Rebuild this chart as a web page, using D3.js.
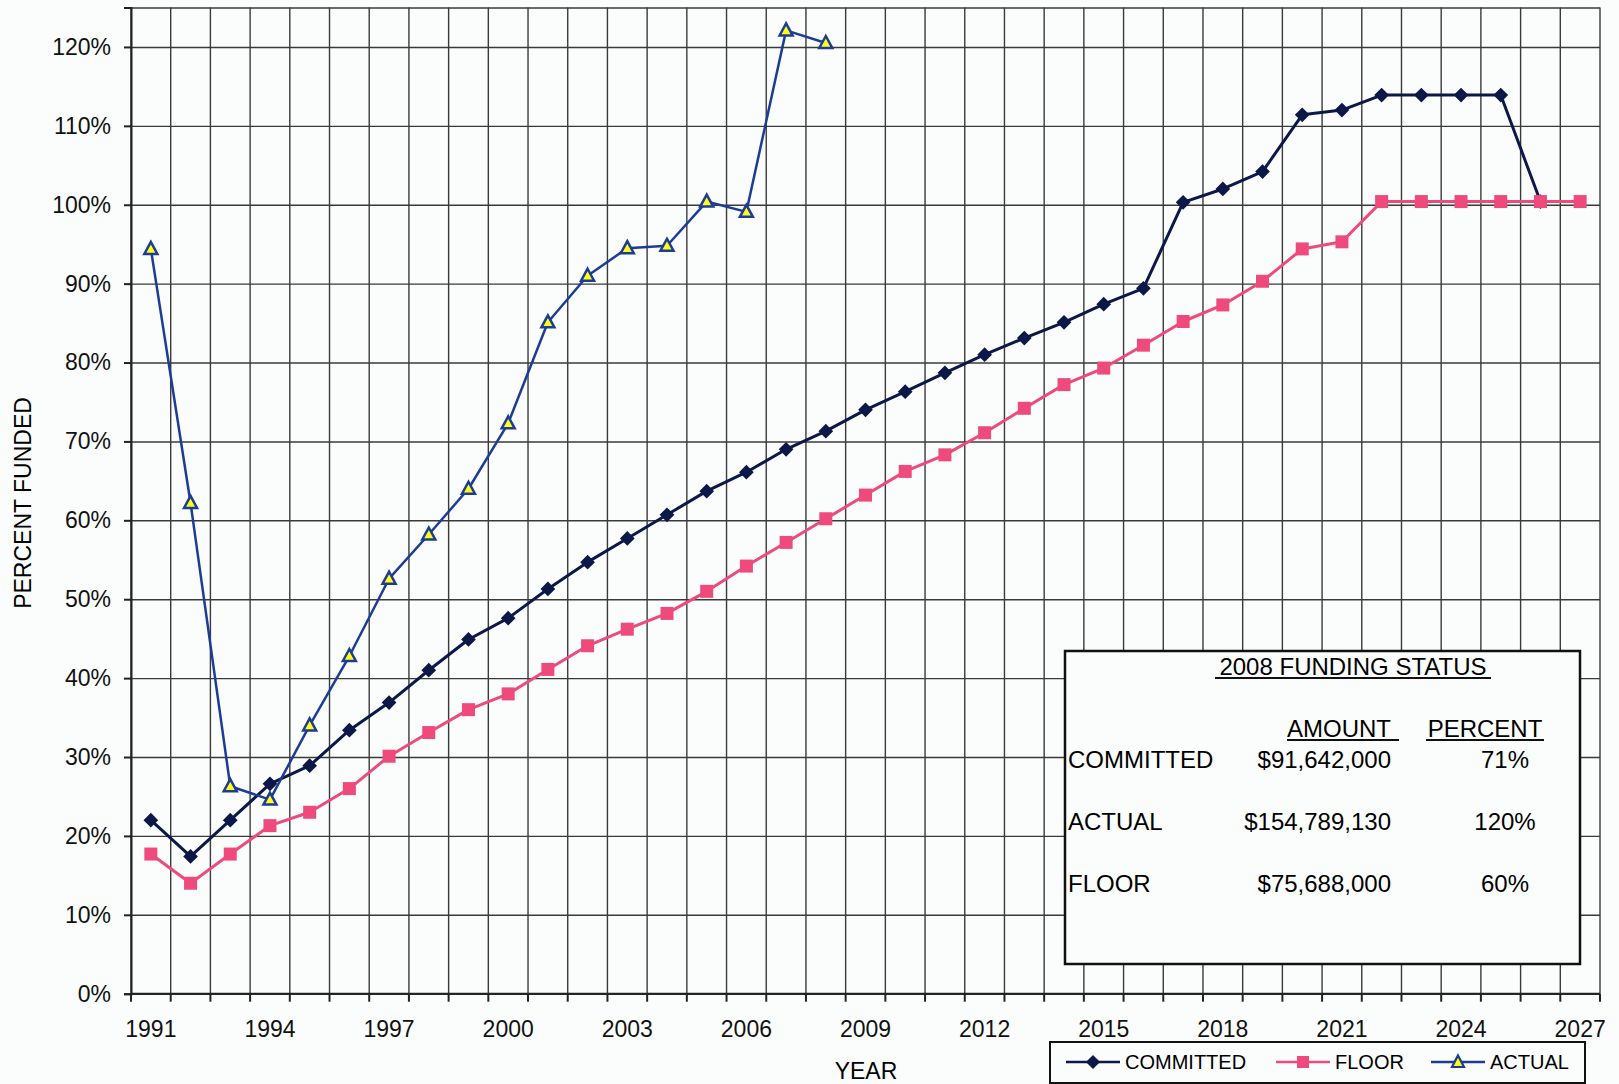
<!DOCTYPE html>
<html>
<head>
<meta charset="utf-8">
<script src="https://cdn.jsdelivr.net/npm/d3@7"></script>
<style>
  body { margin: 0; background: #fbfdfd; }
  svg { display: block; font-family: "Liberation Sans", Arial, sans-serif; }
  .grid line { stroke: #3a3a3a; stroke-width: 1.4; }
  .grid path { display: none; }
  .axis path, .axis line { stroke: #222; stroke-width: 2; }
  .axis text { font-size: 23px; fill: #111; }
</style>
</head>
<body>
<svg id="chart" width="1619" height="1084"></svg>
<script>
// years on the x axis
var years = d3.range(1991, 2028);
var yearLabels = [1991, 1994, 1997, 2000, 2003, 2006, 2009, 2012, 2015, 2018, 2021, 2024, 2027];
var yTicks = [0, 10, 20, 30, 40, 50, 60, 70, 80, 90, 100, 110, 120];

// percent funded
var committed = [22.0, 17.4, 22.0, 26.6, 28.9, 33.4, 36.9, 41.0, 44.9, 47.6,
  51.3, 54.7, 57.7, 60.7, 63.7, 66.1, 69.0, 71.3, 74.0, 76.3,
  78.7, 81.0, 83.1, 85.1, 87.4, 89.4, 100.3, 102.0, 104.2, 111.4,
  112.0, 113.9, 113.9, 113.9, 113.9, 100.4];
var floor = [17.7, 14.0, 17.7, 21.3, 23.0, 26.0, 30.1, 33.1, 36.0, 38.0,
  41.1, 44.1, 46.2, 48.2, 51.0, 54.2, 57.2, 60.2, 63.2, 66.2,
  68.3, 71.1, 74.2, 77.2, 79.3, 82.2, 85.2, 87.3, 90.3, 94.4,
  95.3, 100.4, 100.4, 100.4, 100.4, 100.4, 100.4];
var actual = [94.4, 62.2, 26.3, 24.6, 34.0, 42.8, 52.6, 58.2, 64.0, 72.3,
  85.1, 91.0, 94.5, 94.8, 100.4, 99.1, 122.1, 120.5];

var statusRows = [
  ["COMMITTED", "$91,642,000", "71%"],
  ["ACTUAL", "$154,789,130", "120%"],
  ["FLOOR", "$75,688,000", "60%"]
];

var colors = { committed: "#0c1848", floor: "#ee4a7c", actual: "#1d3c96", tri: "#ffff1a" };

var plotL = 131, plotR = 1600, plotT = 7.5, plotB = 993.7;

var svg = d3.select("#chart");

var x = d3.scaleBand().domain(years).range([plotL, plotR]);
var y = d3.scaleLinear().domain([0, 125]).range([plotB, plotT]);
var bw = x.bandwidth();
var cx = function(yr) { return x(yr) + bw / 2; };

// horizontal grid
svg.append("g")
  .attr("class", "grid")
  .attr("transform", "translate(" + plotL + ",0)")
  .call(d3.axisLeft(y).tickValues(yTicks.concat([125])).tickSize(-(plotR - plotL)).tickFormat(""));

// vertical grid at band edges
var edges = years.map(function(d) { return x(d); }).concat([plotR]);
svg.append("g").attr("class", "grid")
  .selectAll("line").data(edges).enter().append("line")
  .attr("x1", d => d).attr("x2", d => d)
  .attr("y1", plotT).attr("y2", plotB);

// bottom ticks at band edges
svg.append("g").attr("class", "axis")
  .selectAll("line").data(edges).enter().append("line")
  .attr("x1", d => d).attr("x2", d => d)
  .attr("y1", plotB).attr("y2", plotB + 8);

// y axis
svg.append("g")
  .attr("class", "axis")
  .attr("transform", "translate(" + plotL + ",0)")
  .call(d3.axisLeft(y).tickValues(yTicks).tickSize(7).tickPadding(13).tickFormat(d => d + "%"));

// x axis labels
var xAxis = d3.axisBottom(x).tickValues(yearLabels).tickSize(0).tickPadding(27);
var gx = svg.append("g")
  .attr("class", "axis")
  .attr("transform", "translate(0," + plotB + ")")
  .call(xAxis);
gx.select(".domain").attr("d", "M" + plotL + ",0H" + plotR);

svg.append("text")
  .attr("x", 866).attr("y", 1079)
  .attr("text-anchor", "middle")
  .style("font-size", "23px")
  .text("YEAR");

svg.append("text")
  .attr("transform", "translate(31,503) rotate(-90)")
  .attr("text-anchor", "middle")
  .style("font-size", "23px")
  .text("PERCENT FUNDED");

// series
var line = d3.line().x((d, i) => cx(years[i])).y(d => y(d));

function drawLine(data, color, w) {
  svg.append("path")
    .datum(data)
    .attr("fill", "none")
    .attr("stroke", color)
    .attr("stroke-width", w)
    .attr("stroke-linejoin", "round")
    .attr("d", line);
}

drawLine(committed, colors.committed, 3);
svg.append("g").selectAll("path").data(committed).enter().append("path")
  .attr("transform", (d, i) => "translate(" + cx(years[i]) + "," + y(d) + ") rotate(45)")
  .attr("d", d3.symbol().type(d3.symbolSquare2).size(90))
  .attr("fill", colors.committed)
  .attr("stroke", colors.committed)
  .attr("stroke-width", 2);

drawLine(floor, colors.floor, 3);
svg.append("g").selectAll("rect").data(floor).enter().append("rect")
  .attr("x", (d, i) => cx(years[i]) - 6.5)
  .attr("y", d => y(d) - 6.5)
  .attr("width", 13).attr("height", 13)
  .attr("fill", colors.floor);

drawLine(actual, colors.actual, 2.5);
svg.append("g").selectAll("path").data(actual).enter().append("path")
  .attr("transform", (d, i) => "translate(" + cx(years[i]) + "," + y(d) + ")")
  .attr("d", "M0,-7L6.5,5L-6.5,5Z")
  .attr("fill", colors.tri)
  .attr("stroke", colors.actual)
  .attr("stroke-width", 2.5)
  .attr("stroke-linejoin", "miter");

// funding status box
var box = svg.append("g");
box.append("rect")
  .attr("x", 1065).attr("y", 651).attr("width", 515).attr("height", 313)
  .attr("fill", "#fbfdfd").attr("stroke", "#111").attr("stroke-width", 2.5);

function boxText(t, tx, ty, anchor) {
  return box.append("text").attr("x", tx).attr("y", ty)
    .attr("text-anchor", anchor).style("font-size", "24px").text(t);
}
boxText("2008 FUNDING STATUS", 1353, 675, "middle");
box.append("line").attr("x1", 1215).attr("x2", 1491).attr("y1", 678).attr("y2", 678).attr("stroke", "#111").attr("stroke-width", 1.8);
boxText("AMOUNT", 1391, 737, "end");
box.append("line").attr("x1", 1287).attr("x2", 1399).attr("y1", 740).attr("y2", 740).attr("stroke", "#111").attr("stroke-width", 1.8);
boxText("PERCENT", 1485, 737, "middle");
box.append("line").attr("x1", 1426).attr("x2", 1544).attr("y1", 740).attr("y2", 740).attr("stroke", "#111").attr("stroke-width", 1.8);

statusRows.forEach(function(r, i) {
  var ty = 768 + i * 62;
  boxText(r[0], 1068, ty, "start");
  boxText(r[1], 1391, ty, "end");
  boxText(r[2], 1505, ty, "middle");
});

// legend
var legendItems = [
  { name: "COMMITTED", color: colors.committed, x0: 1066, kind: "diamond" },
  { name: "FLOOR", color: colors.floor, x0: 1276, kind: "square" },
  { name: "ACTUAL", color: colors.actual, x0: 1431, kind: "triangle" }
];
var lg = svg.append("g");
lg.append("rect")
  .attr("x", 1050).attr("y", 1042).attr("width", 535).attr("height", 41)
  .attr("fill", "#fbfdfd").attr("stroke", "#111").attr("stroke-width", 2);

var li = lg.selectAll("g.item").data(legendItems).enter().append("g")
  .attr("transform", d => "translate(" + d.x0 + ",1062)");
li.append("line").attr("x1", 0).attr("x2", 54).attr("stroke", d => d.color).attr("stroke-width", 2.5);
li.each(function(d) {
  var g = d3.select(this);
  if (d.kind == "diamond") {
    g.append("rect").attr("x", -5).attr("y", -5).attr("width", 10).attr("height", 10)
      .attr("transform", "translate(27,0) rotate(45)").attr("fill", d.color);
  } else if (d.kind == "square") {
    g.append("rect").attr("x", 21).attr("y", -6).attr("width", 12).attr("height", 12).attr("fill", d.color);
  } else {
    g.append("path").attr("transform", "translate(27,0)").attr("d", "M0,-6.5L6,5L-6,5Z")
      .attr("fill", colors.tri).attr("stroke", d.color).attr("stroke-width", 2.2);
  }
});
li.append("text").attr("x", 59).attr("y", 7).style("font-size", "20px").text(d => d.name);
</script>
</body>
</html>
